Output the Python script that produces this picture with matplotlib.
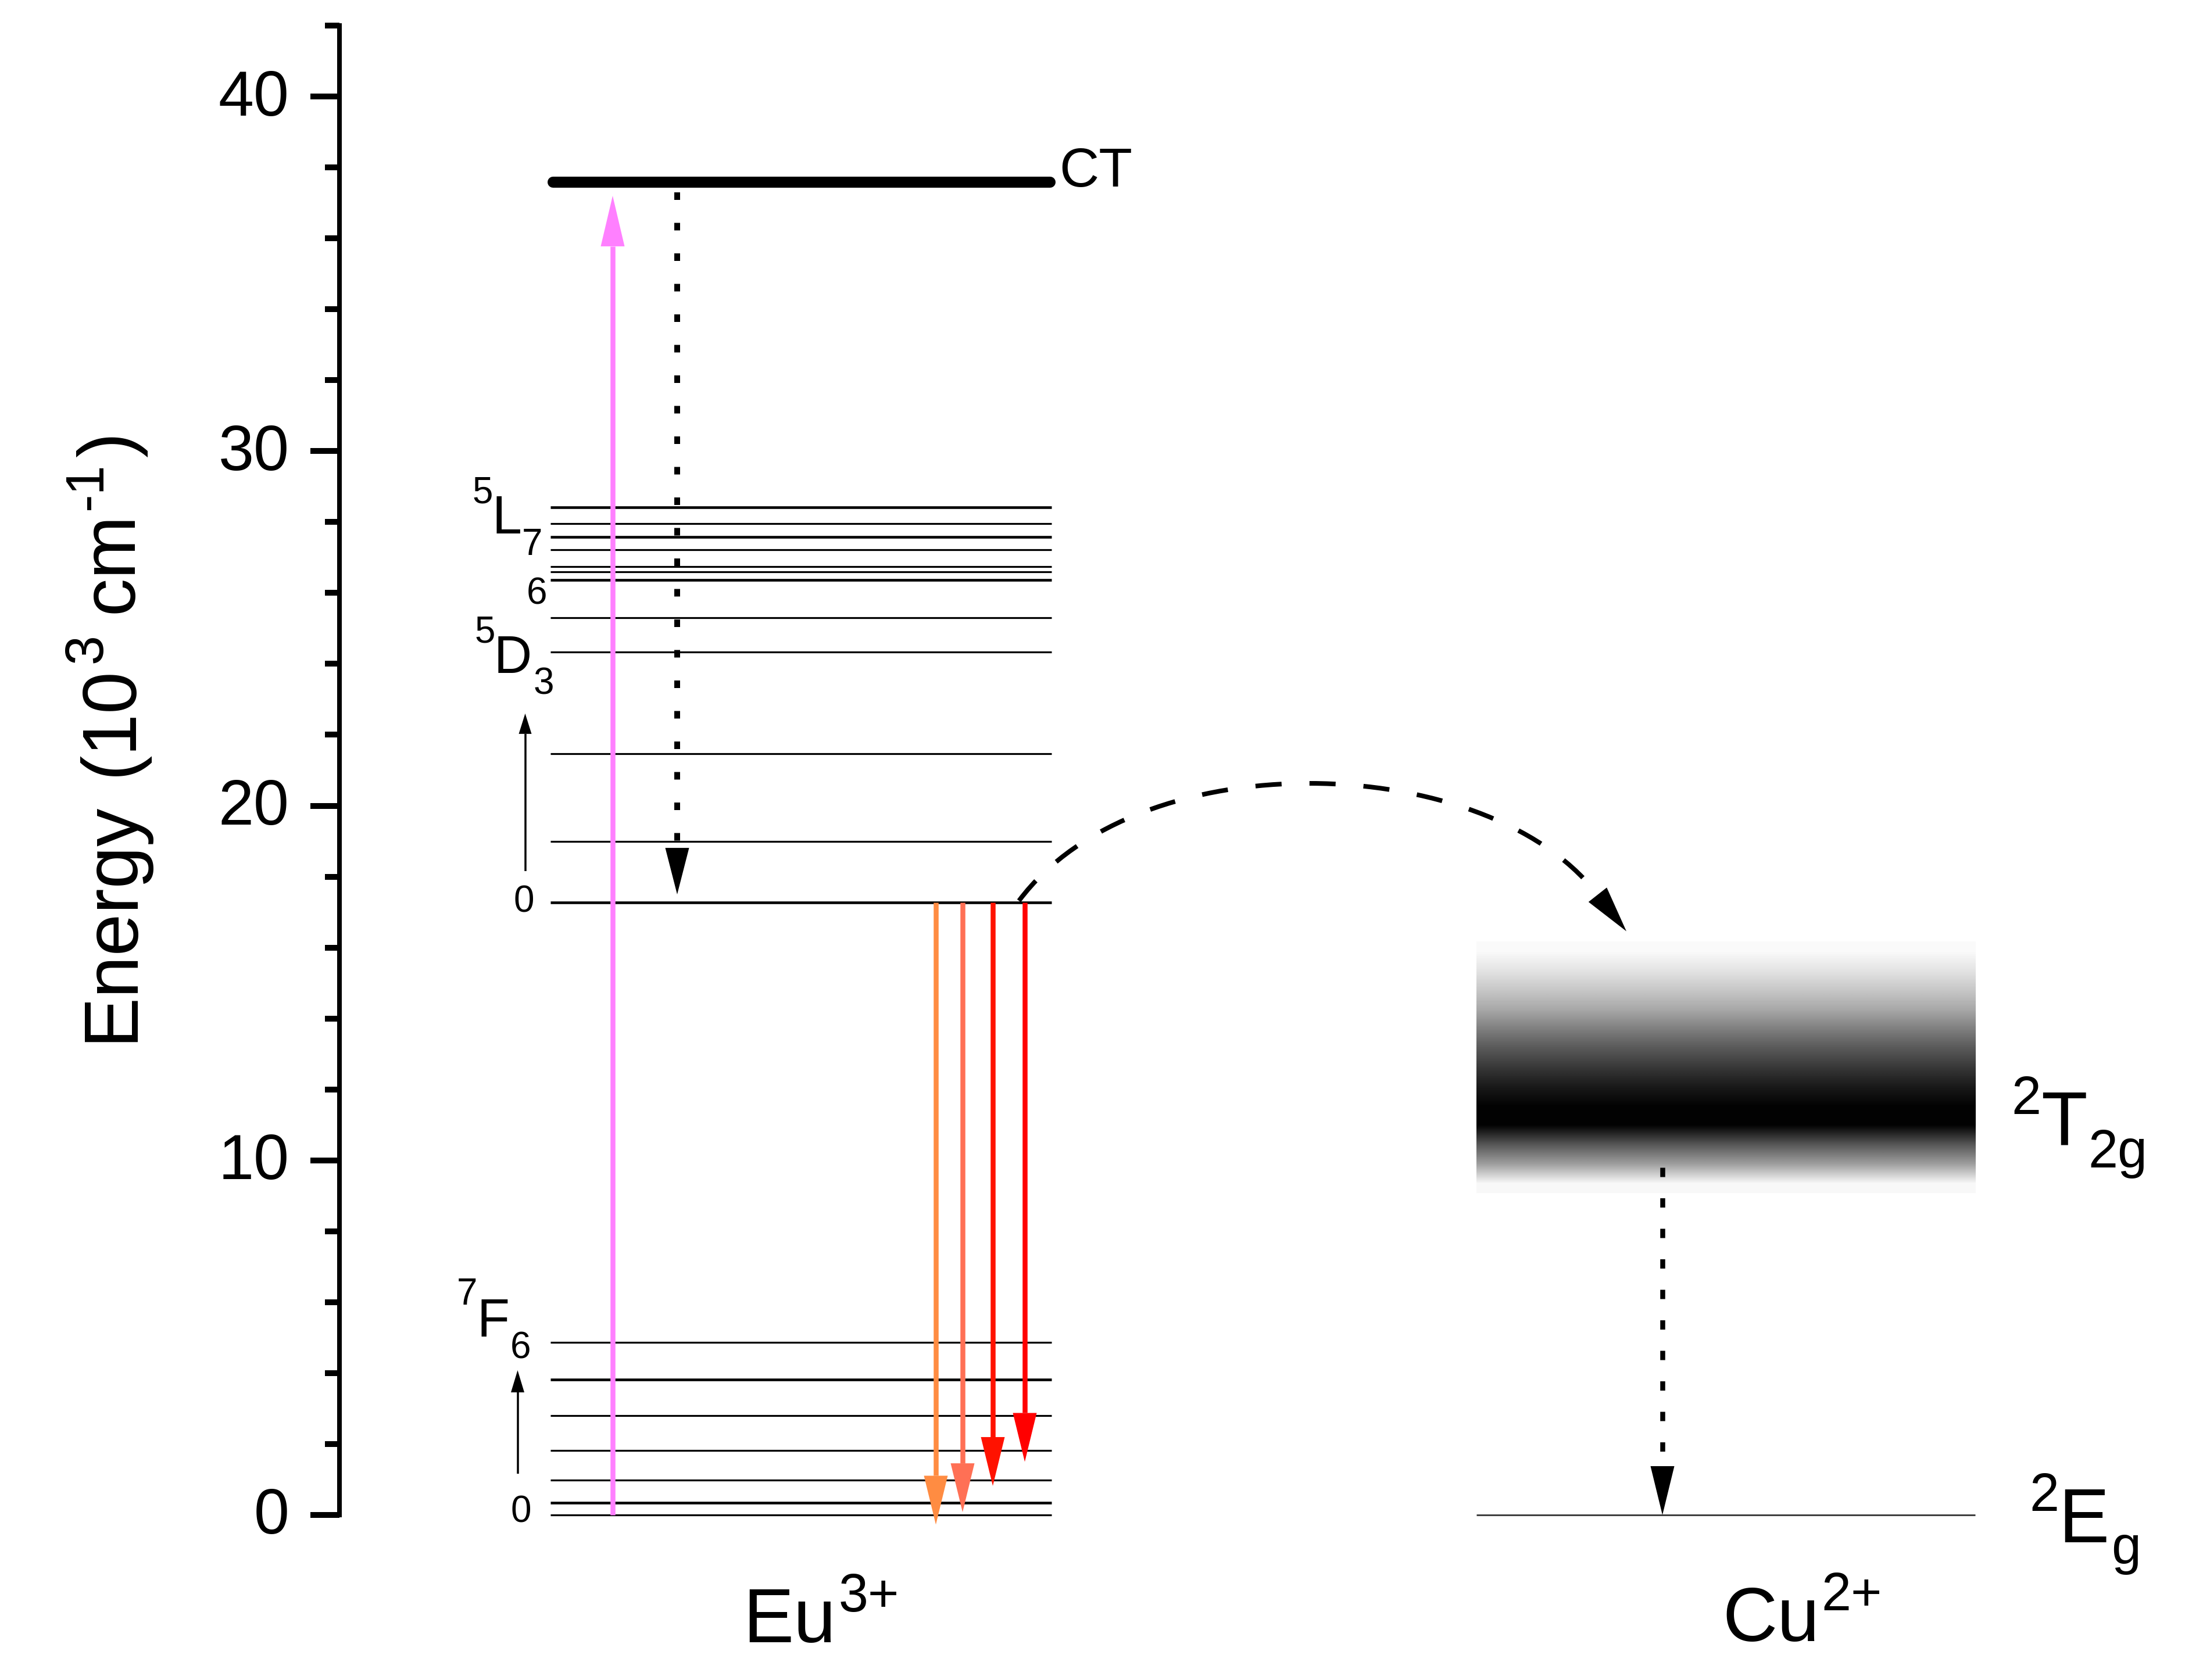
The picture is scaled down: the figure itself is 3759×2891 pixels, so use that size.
import matplotlib
matplotlib.use("Agg")
import matplotlib.pyplot as plt
import numpy as np
from matplotlib.patches import FancyArrowPatch, PathPatch
from matplotlib.path import Path
from matplotlib.ticker import MultipleLocator
from matplotlib.transforms import ScaledTranslation

plt.rcParams['font.family'] = ['Liberation Sans', 'DejaVu Sans']
plt.rcParams['lines.scale_dashes'] = False

W, H = 3759, 2891
px = 0.72  # one image pixel in points at dpi 100

# energies in 10^3 cm^-1
eu_levels = [0, 0.34, 0.98, 1.82, 2.80, 3.82, 4.86,
             17.27, 19.0, 21.47, 24.33, 25.30,
             26.36, 26.60, 26.75, 27.22, 27.58, 27.95, 28.42]
eu_thick = [0.34, 3.82, 17.27, 26.36, 27.58, 28.42]
ct_level = 37.6
cu_levels = [0]
eu_x = [947, 1809]
ct_x = [951, 1806]
cu_x = [2540, 3398]

# band of the 2T2g state
band_top = 16.16
band_bottom = 9.08
band_gray = [0.98, 0.89, 0.78, 0.66, 0.50, 0.35, 0.22, 0.10, 0.01, 0.01, 0.34, 0.62, 0.97]

# arrows: x position, start, tip
pump_x, pump_start, pump_tip = 1054, 0, 37.2
relax_x, relax_start, relax_tip = 1165, 37.3, 17.5
emit_x = [1610, 1656, 1708, 1763]
emit_tip = [-0.27, 0.08, 0.82, 1.5]
emit_start = 17.27
emit_colors = ['#FF8C42', '#FF7055', '#FF1200', '#FF0000']
cu_arrow_x, cu_arrow_start, cu_arrow_tip = 2860, 9.8, 0
d_arrow = (903.5, 18.15, 22.6)
f_arrow = (890.5, 1.16, 4.08)

# dashed transfer curve
transfer_x = [1753, 1960, 2554, 2745]
transfer_e = [17.32, 21.86, 21.53, 17.56]
transfer_head_x = [2748, 2798]
transfer_head_e = [17.5, 16.46]

yticks_major = [0, 10, 20, 30, 40]

fig = plt.figure(figsize=(W / 100, H / 100), dpi=100)
ax = fig.add_axes([583.5 / W, (H - 2607) / H, (W - 583.5) / W, (2607 - 44) / H])
ax.patch.set_alpha(0)


def head(x0, e0, x1, e1, color='black', length=84, width=41):
    style = f'-|>,head_length={length * px},head_width={width / 2 * px}'
    ax.add_patch(FancyArrowPatch((x0, e0), (x1, e1), arrowstyle=style, mutation_scale=1,
                                 color=color, lw=0, shrinkA=0, shrinkB=0, clip_on=False, zorder=6))


def vline_arrow(x, start, tip, color='black', lw=8.5, length=84, width=41, ls='-', z=5):
    sign = 1 if tip > start else -1
    base = tip - sign * length * 42 / (2607 - 44)
    ax.plot([x, x], [start, base], color=color, lw=lw * px, ls=ls, solid_capstyle='butt',
            dash_capstyle='butt', clip_on=False, zorder=z)
    head(x, base, x, tip, color, length, width)


def put(x, y, s, size, **kw):
    return fig.text(x / W, 1 - y / H, s, fontsize=size, va='baseline', **kw)


def put_up(x, y, s, size):
    return put(x, y, s, size, rotation=90, rotation_mode='anchor', ha='left')


for lev in eu_levels:
    ax.plot(eu_x, [lev, lev], color='black', lw=(4.6 if lev in eu_thick else 3.2) * px,
            solid_capstyle='butt', clip_on=False, zorder=2)
ax.plot(ct_x, [ct_level, ct_level], color='black', lw=19 * px, solid_capstyle='round', zorder=2)
for lev in cu_levels:
    ax.plot(cu_x, [lev, lev], color='#404040', lw=3 * px, solid_capstyle='butt', clip_on=False, zorder=2)

ax.imshow(np.array(band_gray).reshape(-1, 1), cmap='gray', vmin=0, vmax=1, aspect='auto',
          extent=[cu_x[0], cu_x[1], band_bottom, band_top], origin='upper',
          interpolation='bilinear', zorder=1)
ax.set_xlim(583.5, W)
ax.set_ylim(0, 42)

vline_arrow(pump_x, pump_start, pump_tip, color='#FF80FF', lw=8.5, length=87)
for x, tip, c in zip(emit_x, emit_tip, emit_colors):
    vline_arrow(x, emit_start, tip, color=c, lw=8.5)
vline_arrow(relax_x, relax_start, relax_tip, lw=10, length=80, ls=(0, (13 * px, 39.5 * px)))
vline_arrow(cu_arrow_x, cu_arrow_start, cu_arrow_tip, lw=8.5, ls=(0, (16 * px, 36.5 * px)))
vline_arrow(*d_arrow, lw=3.5, length=35, width=22)
vline_arrow(*f_arrow, lw=3.5, length=38, width=23)

curve = Path(list(zip(transfer_x, transfer_e)), [Path.MOVETO, Path.CURVE4, Path.CURVE4, Path.CURVE4])
ax.add_patch(PathPatch(curve, fill=False, lw=8 * px, ec='black', ls=(0, (45 * px, 48 * px)),
                       capstyle='butt', zorder=5))
head(transfer_head_x[0], transfer_head_e[0], transfer_head_x[1], transfer_head_e[1], length=80, width=40)

# axis
for side in ['top', 'right', 'bottom']:
    ax.spines[side].set_visible(False)
ax.spines['left'].set_linewidth(8 * px)
ax.get_xaxis().set_visible(False)
ax.yaxis.set_minor_locator(MultipleLocator(2))
ax.set_yticks(yticks_major)
ax.tick_params(axis='y', which='major', length=50 * px, width=10 * px, labelsize=79, pad=36 * px)
ax.tick_params(axis='y', which='minor', length=25.5 * px, width=10 * px)
for lab in ax.get_yticklabels():
    lab.set_transform(lab.get_transform() + ScaledTranslation(0, 7 / 100, fig.dpi_scale_trans))

# y title is laid out in pieces so the superscripts sit as in the original
put_up(227, 1793, 'Energy', 94)
put_up(227, 1335, '(10', 94)
put_up(175, 1141, '3', 66)
put_up(227, 1055, 'cm', 94)
put_up(175, 877, '-1', 66)
put_up(227, 787, ')', 94)

# state labels
put(1822, 321, 'CT', 68)
put(812, 865, '5', 46)
put(846, 918, 'L', 66)
put(898, 955, '7', 46)
put(906, 1040, '6', 46)
put(816, 1106, '5', 46)
put(850, 1158, 'D', 65)
put(918, 1194, '3', 46)
put(883, 1569, '0', 46)
put(786, 2245, '7', 46)
put(821, 2300, 'F', 66)
put(878, 2337, '6', 46)
put(878, 2620, '0', 46)
put(1278, 2826, 'Eu', 94)
put(1443, 2773, '3+', 66)
put(2963, 2824, 'Cu', 94)
put(3133, 2771, '2+', 66)
put(3460, 1917, '2', 66)
put(3511, 1971, 'T', 94)
put(3592, 2009, '2g', 66)
put(3491, 2600, '2', 66)
put(3541, 2654, 'E', 94)
put(3632, 2691, 'g', 66)

fig.savefig('out.png', dpi=100)
